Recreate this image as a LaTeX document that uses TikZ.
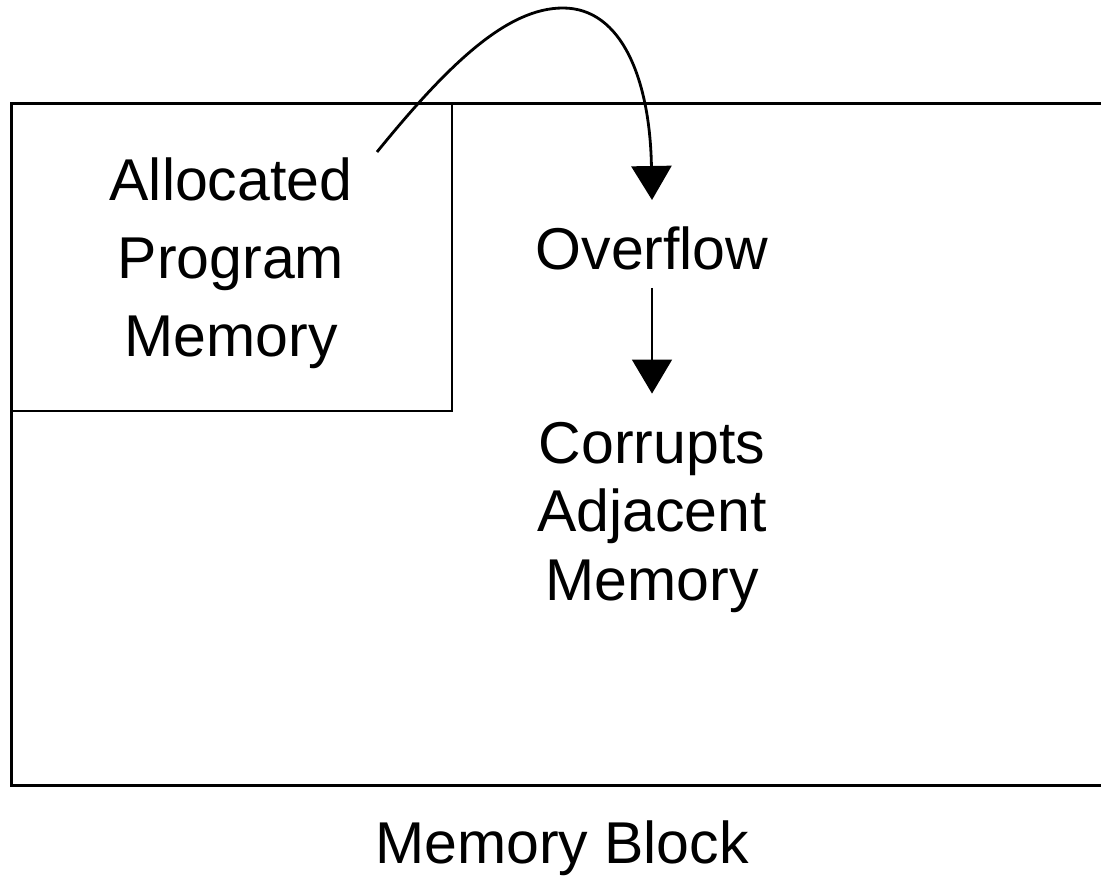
\documentclass[tikz,border=0pt]{standalone}
\usepackage{fontspec}
\setmainfont{Liberation Sans}
\usetikzlibrary{arrows.meta}
\begin{document}
\begin{tikzpicture}[x=1pt,y=-1pt,
  lbl/.style={inner sep=0pt,align=center,font=\fontsize{59}{78.5}\selectfont},
  lbltight/.style={inner sep=0pt,align=center,font=\fontsize{59}{68.5}\selectfont},
  frame/.style={line width=3pt},
  tip/.style={-{Triangle[length=34pt,width=40pt]}}]
\useasboundingbox (0,0) rectangle (1101,877);
% memory block (right side runs off the picture)
\draw[frame] (1110,104) -- (11,104) -- (11,785) -- (1110,785);
\draw[line width=2.6pt] (11,104) rectangle (452,411);
% texts (anchor base = baseline of the last line)
\node[lbl,anchor=base] (alloc) at (231,357) {Allocated\\Program\\Memory};
\node[lbl,anchor=base] (overflow) at (652,270) {Overflow};
\node[lbltight,anchor=base] (corrupts) at (652,600) {Corrupts\\Adjacent\\Memory};
\node[lbl,anchor=base] (block) at (562,863) {Memory Block};
% connectors
\coordinate (cstart) at (377,152);
\coordinate (cend) at (652,200);
\draw[tip,line width=2.8pt] (cstart) .. controls (450,62) and (508,8) .. (563,8)
  .. controls (622,8) and (650,80) .. (cend);
\draw[tip,line width=1.4pt] ([yshift=-17pt]overflow.south) -- ([yshift=28pt]corrupts.north);
\end{tikzpicture}
\end{document}
